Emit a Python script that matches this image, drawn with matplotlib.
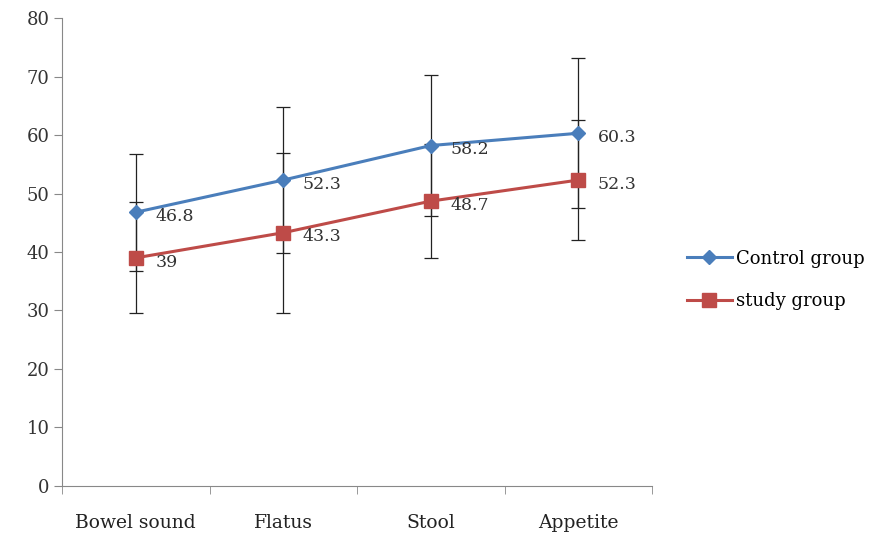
import matplotlib
matplotlib.use("Agg")
import matplotlib.pyplot as plt
import numpy as np

# data
categories = ["Bowel sound", "Flatus", "Stool", "Appetite"]
control = [46.8, 52.3, 58.2, 60.3]
control_sd = [10.0, 12.5, 12.0, 12.8]
study = [39, 43.3, 48.7, 52.3]
study_sd = [9.5, 13.7, 9.8, 10.2]

plt.rcParams["font.family"] = ["DejaVu Serif"]

fig = plt.figure(figsize=(8.8, 5.38), dpi=100)
ax = fig.add_axes([0.0705, 0.0967, 0.6705, 0.8698])

x = np.arange(len(categories))

ax.errorbar(x, control, yerr=control_sd, fmt="none", ecolor="#222222",
            elinewidth=0.9, capsize=5, capthick=0.9, zorder=2)
ax.errorbar(x, study, yerr=study_sd, fmt="none", ecolor="#222222",
            elinewidth=0.9, capsize=5, capthick=0.9, zorder=2)

ax.plot(x, control, color="#4A7EBB", lw=2.2, marker="D", ms=7.5,
        label="Control group", zorder=3)
ax.plot(x, study, color="#BE4B48", lw=2.2, marker="s", ms=10,
        label="study group", zorder=3)

for xi, v in zip(x, control):
    ax.annotate(f"{v:g}", (xi, v), xytext=(14, -3), textcoords="offset points",
                ha="left", va="center", fontsize=12.5, color="#333333", zorder=4)
for xi, v in zip(x, study):
    ax.annotate(f"{v:g}", (xi, v), xytext=(14, -3), textcoords="offset points",
                ha="left", va="center", fontsize=12.5, color="#333333", zorder=4)

ax.set_xlim(-0.5, len(categories) - 0.5)
ax.set_ylim(0, 80)
ax.set_yticks(range(0, 81, 10))
ax.set_xticks(x)
ax.set_xticklabels(categories)
ax.set_xticks(np.arange(-0.5, len(categories), 1), minor=True)
ax.tick_params(axis="x", which="major", length=0, pad=20, labelsize=13.5,
               labelcolor="#222222")
ax.tick_params(axis="x", which="minor", length=6, color="#888888")
ax.tick_params(axis="y", length=6, color="#888888", labelsize=13,
               labelcolor="#333333", pad=3)

for s in ["top", "right"]:
    ax.spines[s].set_visible(False)
for s in ["left", "bottom"]:
    ax.spines[s].set_color("#888888")

fig.legend(loc="center left", bbox_to_anchor=(0.762, 0.48), frameon=False,
           fontsize=13, handlelength=2.5, labelspacing=1.35, handletextpad=0.2)

plt.savefig("out.png", dpi=100)
